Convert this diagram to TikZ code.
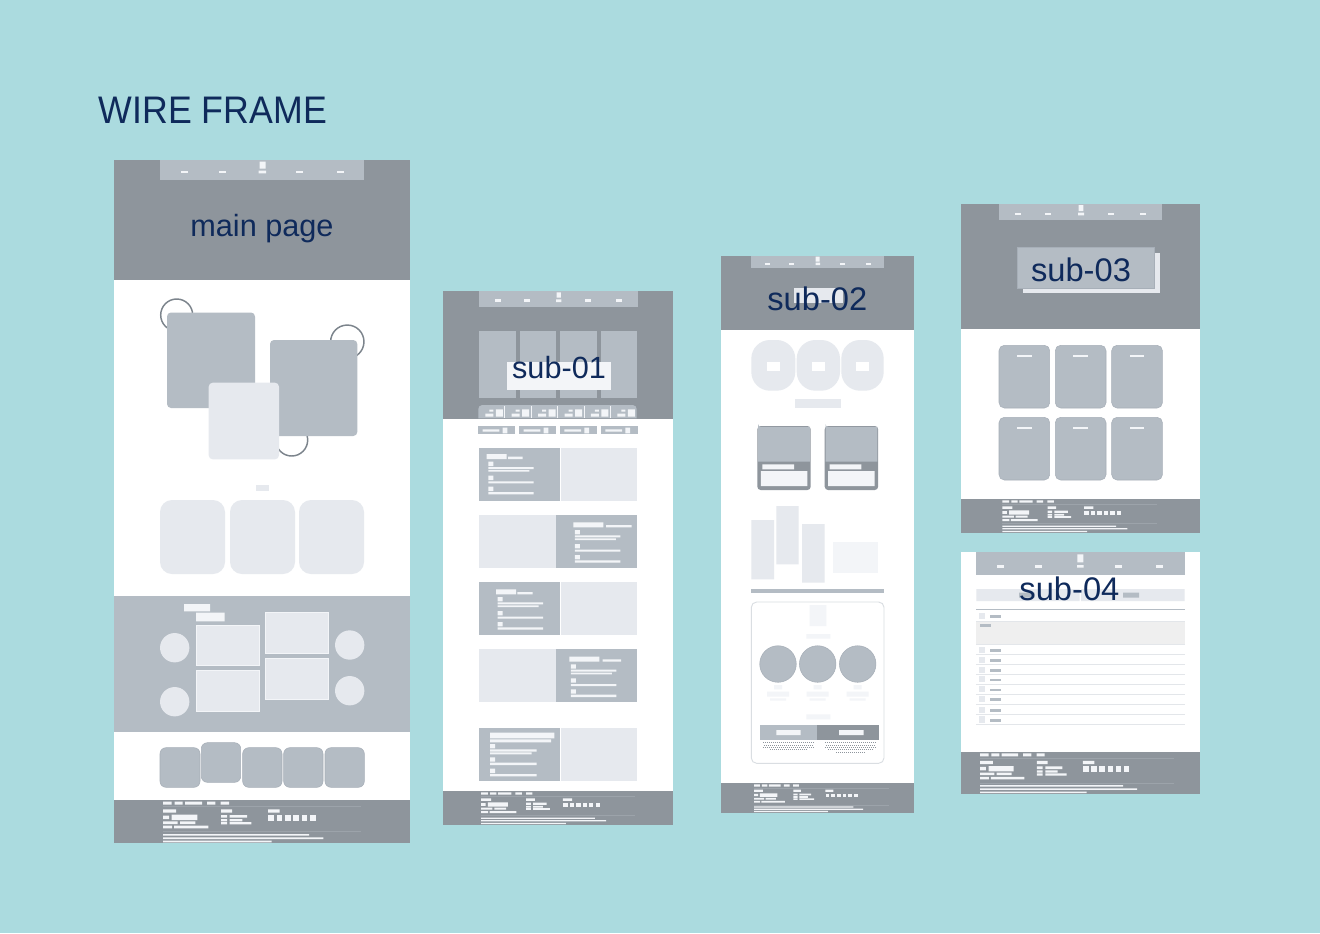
\documentclass[tikz,border=0pt]{standalone}
\usepackage{fontspec}
\setmainfont{Liberation Sans}
\definecolor{wfbg}{HTML}{ABDBDF}
\definecolor{wfdark}{HTML}{8E959C}
\definecolor{wfmid}{HTML}{B4BCC4}
\definecolor{wfedge}{HTML}{A7AFB8}
\definecolor{wflight}{HTML}{E6E9EE}
\definecolor{wfpale}{HTML}{F3F5F8}
\definecolor{wfgrey}{HTML}{EFEFEF}
\definecolor{wfnavy}{HTML}{0F2A5B}
\definecolor{wfline}{HTML}{9CA3AA}
\definecolor{wfring}{HTML}{7C848C}
\definecolor{wfrow}{HTML}{E3E6EA}

% page footer: menu, three columns of links, copyright lines
\newcommand{\wfFooter}[3]{%
\begin{scope}[shift={(#1,#2)},scale=#3]
\fill[wfpale] (0,1.7) rectangle (8.7,4.7) (11.7,1.7) rectangle (19.7,4.7)
  (22,1.7) rectangle (39,4.7) (44,1.7) rectangle (52.3,4.7) (57.7,1.7) rectangle (66,4.7)
  (0,9.3) rectangle (13,12.7) (58,9.3) rectangle (69,12.7) (105,9.3) rectangle (116.7,12.7)
  (0,15.5) rectangle (6,19) (8.7,14.7) rectangle (34.3,20)
  (0,21.3) rectangle (14.7,24) (17,21.3) rectangle (32.3,24)
  (0,25.7) rectangle (9,28.3) (11,25.7) rectangle (45.3,28.3)
  (58,15) rectangle (64,17.7) (66.7,15) rectangle (84,17.7)
  (58,19) rectangle (64,21.3) (66.7,19) rectangle (79.3,21.3)
  (58,22) rectangle (64,24.3) (66.7,22) rectangle (88.3,24.3)
  (0,34) rectangle (146,35.7) (0,37.3) rectangle (160.3,39) (0,40.7) rectangle (108.7,42.3);
\draw[wfline,line width=0.4pt] (0,6.7) -- (198,6.7) (0,31.7) -- (198,31.7);
\foreach \k in {0,...,5} \fill[wfpale] ({105.3+8.3*\k},15) rectangle +(5.7,5.7);
\end{scope}}

% text block: heading, then three bullet items
\newcommand{\wfTxt}[5]{%
\begin{scope}[shift={(#1,#2)}]
\fill[wfpale] (0,0) rectangle (#3,5) (#4,2.7) rectangle (#5,5)
  (1.6,7.7) rectangle (6.6,12) (1.6,13) rectangle (47,15) (1.6,16) rectangle (42.6,17.7)
  (1.6,21.7) rectangle (6.6,26) (1.6,27.3) rectangle (47,29.3)
  (1.6,32.7) rectangle (6.6,37) (1.6,38) rectangle (47,40.3);
\end{scope}}

\begin{document}
\begin{tikzpicture}[x=0.75pt,y=-0.75pt,
  title/.style={text=wfnavy,inner sep=0pt,anchor=base,font=\fontsize{23}{27}\selectfont},
  card/.style={fill=wfmid,draw=wfedge,line width=0.4pt},
  ring/.style={draw=wfring,line width=1.1pt}]
\fill[wfbg] (0,0) rectangle (1320,933);
\useasboundingbox (0,0) rectangle (1320,933);

\node[text=wfnavy,inner sep=0pt,anchor=base west,font=\fontsize{28.8}{33}\selectfont]
  (heading) at (98.5,123.3) {\scalebox{0.93}[1]{WIRE FRAME}};

%% ---------------- main page ----------------
\fill[white] (114,160) rectangle (410,843);
\fill[wfdark] (114,160) rectangle (410,280);
\fill[wfmid] (160,160) rectangle (364.3,180);
\foreach \c in {184.3,222,299.3,340} \fill[wfpale] (\c-3.5,170.7) rectangle (\c+3.5,173.3);
\fill[wfpale] (259.5,161.5) rectangle (265.5,168.5) (258.7,170.7) rectangle (266,173.3);
\node[title] (mainname) at (262,236.5) {main page};

% overlapping cards with rings
\draw[ring] (176.7,315) circle[radius=12pt];
\draw[ring] (347.3,341.7) circle[radius=12.5pt];
\draw[ring] (291.7,440) circle[radius=12pt];
\fill[wfmid,rounded corners=3pt] (167,312.5) rectangle (255,408);
\fill[wfmid,rounded corners=3pt] (270,340) rectangle (357.3,436);
\fill[wflight,rounded corners=3pt] (208.7,382.7) rectangle (279,459.3);

\fill[wflight] (256,484.5) rectangle (269,490.5);
\foreach \a/\b in {160/225,230/295,299/364}
  \fill[wflight,rounded corners=9pt] (\a,500) rectangle (\b,574);

% grey band
\fill[wfmid] (114,595.7) rectangle (410,732.3);
\fill[wfpale] (184,604) rectangle (210,611.3) (196,612.7) rectangle (224.7,621.3);
\foreach \p in {(174.7,647.7),(174.7,701.7),(349.7,645),(349.7,690.7)}
  \fill[wflight] \p circle[radius=11pt];
\foreach \a/\b/\c/\d in {196/625/259/665.3,196/670.3/259/711,265.3/612.7/328.7/653.3,265.3/658.7/328.7/699.3}
  \filldraw[fill=wflight,draw=wfpale,line width=0.6pt] (\a,\b) rectangle (\c,\d);

% card strip
\foreach \a/\b in {160/200,242.7/282,283.7/323,325/364.3}
  \filldraw[card,rounded corners=4.5pt] (\a,747.7) rectangle (\b,787.3);
\filldraw[card,rounded corners=4.5pt] (201.3,742.7) rectangle (240.7,782.3);

\fill[wfdark] (114,800) rectangle (410,843);
\wfFooter{163}{800}{1}

%% ---------------- sub-01 ----------------
\fill[white] (443.3,291) rectangle (673.3,825);
\fill[wfdark] (443.3,291) rectangle (673.3,419.3);
\fill[wfmid] (479.3,291) rectangle (637.7,306.7);
\foreach \c in {498,527,587.7,619} \fill[wfpale] (\c-3,299.3) rectangle (\c+3,302);
\fill[wfpale] (556.5,292.3) rectangle (560.8,297.7) (556,299.3) rectangle (561.3,302);
\foreach \a/\b in {479.3/516,519.7/556,560/596.7,600.7/637.3}
  \fill[wfmid] (\a,331) rectangle (\b,398.3);
\fill[wfpale] (507.3,361.7) rectangle (610.7,390);
\node[title] (subone) at (559,378.3) {sub-01};

% tab strip
\fill[wfmid] (478.3,418.3) [rounded corners=3pt] -- (478.3,405) -- (636.7,405) [sharp corners] -- (636.7,418.3) -- cycle;
\foreach \k in {0,...,5} {
  \pgfmathsetmacro{\tx}{478.3+26.4*\k}
  \fill[wfpale] (\tx+11,409.5) rectangle (\tx+15,411.5) (\tx+7,413.5) rectangle (\tx+15,416.5)
    (\tx+17.5,409.3) rectangle (\tx+24.5,416.7);
}
\foreach \k in {1,...,5} \draw[wfpale,line width=0.4pt] ({478.3+26.4*\k},406) -- ({478.3+26.4*\k},418);
\foreach \a in {478.3,519.3,560,601} {
  \fill[wfmid] (\a,426) rectangle (\a+36.5,434.3);
  \fill[wfpale] (\a+4.3,429.3) rectangle (\a+21,431.7) (\a+24.3,427.7) rectangle (\a+29,433.3);
}

% content rows
\fill[wfmid] (479.3,448.3) rectangle (560,501);  \fill[wflight] (561,448.3) rectangle (637.3,501);
\wfTxt{486.7}{454}{20}{21.3}{36}
\fill[wflight] (479.3,515) rectangle (556,568.3);  \fill[wfmid] (556,515) rectangle (637.3,568.3);
\wfTxt{573.3}{522.3}{30}{32.7}{58.3}
\fill[wfmid] (479.3,582.3) rectangle (560,635.3);  \fill[wflight] (561,582.3) rectangle (637.3,635.3);
\wfTxt{496}{589.3}{20}{21.3}{36.7}
\fill[wflight] (479.3,649) rectangle (556,702.3);  \fill[wfmid] (556,649) rectangle (637.3,702.3);
\wfTxt{569.3}{656.7}{30}{33.3}{51.7}
\fill[wfmid] (479.3,728.3) rectangle (560,781);  \fill[wflight] (561,728.3) rectangle (637.3,781);
\fill[wfpale] (490,732.7) rectangle (554.3,738.3) (490,739.3) rectangle (551,742.3)
  (490,744) rectangle (495,748.3) (490,749.3) rectangle (536.7,751.7) (490,752.3) rectangle (531.7,754.3)
  (490,757.3) rectangle (495,761.7) (490,762.7) rectangle (536.7,765)
  (490,768.7) rectangle (495,773) (490,774) rectangle (536.7,776.3);

\fill[wfdark] (443.3,791) rectangle (673.3,825);
\wfFooter{481}{791}{0.78}

%% ---------------- sub-02 ----------------
\fill[white] (721.3,256) rectangle (914,813.3);
\fill[wfdark] (721.3,256) rectangle (914,330);
\fill[wfmid] (751.3,256) rectangle (884,268.3);
\foreach \c in {767.3,791.7,842,868.3} \fill[wfpale] (\c-2.5,262.7) rectangle (\c+2.5,265);
\fill[wfpale] (815.7,256.7) rectangle (819.7,261.7) (815.5,262.7) rectangle (820,265);
\fill[wflight] (794,288.3) rectangle (843.3,303.3);
\node[title,font=\fontsize{24.5}{29}\selectfont] (subtwo) at (817.3,310) {sub-02};

\foreach \a/\b in {751.3/795.3,796.7/840,841.3/883.7} {
  \fill[wflight,rounded corners=14pt] (\a,340) rectangle (\b,390.7);
  \fill[white] ({(\a+\b)/2-6.7},361.7) rectangle ({(\a+\b)/2+6.7},371);
}
\fill[wflight] (795.3,399.3) rectangle (841.3,408.3);

\foreach \a in {757.3,824.7} {
  \fill[wfdark,rounded corners=2.5pt] (\a,426) rectangle (\a+53.4,490);
  \fill[wfmid] (\a+0.8,426.8) [rounded corners=2pt] -- (\a+0.8,426.8) [sharp corners] -- (\a+52.6,426.8) -- (\a+52.6,461.7) -- (\a+0.8,461.7) -- cycle;
  \fill[wfpale] (\a+5,464.3) rectangle (\a+36.7,469.3) (\a+3.5,471) rectangle (\a+50,486);
}

% chart
\fill[wflight] (751.3,520) rectangle (774,579.3) (776.3,506) rectangle (798.7,564.3)
  (802,524) rectangle (824.7,582.7);
\fill[wfpale] (833,541.7) rectangle (878,572.7);
\fill[wfmid] (751.3,588.7) rectangle (883.7,593.3);

% plan box
\draw[wfrow!80!wfmid,line width=0.7pt,rounded corners=4pt] (751.3,602) rectangle (884,763.3);
\fill[wfpale] (809.7,605) rectangle (826.3,626) (806.3,634) rectangle (830.3,638.7)
  (806.3,714.3) rectangle (830.3,719.3);
\foreach \c in {778,817.7,857.7} {
  \filldraw[fill=wfmid,draw=wfedge,line width=0.4pt] (\c,664) circle[radius=13.7pt];
  \fill[wfpale] (\c-4,685) rectangle (\c+4,689.3) (\c-11,691.7) rectangle (\c+11,696.7)
    (\c-8,698.3) rectangle (\c+8,700.7);
}
\fill[wfmid] (759.7,725) rectangle (817.3,740);
\fill[wfdark] (817.3,725) rectangle (878.7,740);
\fill[wfpale] (776.3,730) rectangle (800.7,735) (839,730) rectangle (863.7,735);
\foreach \y/\l/\r in {742.5/763/815,744.8/764/814,747.1/763/815,749.4/770/808}
  \draw[wfdark,line width=0.3pt,dash pattern=on 1pt off 0.5pt] (\l,\y) -- (\r,\y);
\foreach \y/\l/\r in {742.5/825/877,744.8/826/876,747.1/825/877,749.4/828/874,751.7/836/866}
  \draw[wfdark,line width=0.3pt,dash pattern=on 1pt off 0.5pt] (\l,\y) -- (\r,\y);

\fill[wfdark] (721.3,783.3) rectangle (914,813.3);
\wfFooter{754}{783.3}{0.68}

%% ---------------- sub-03 ----------------
\fill[white] (961.3,204) rectangle (1199.7,533.3);
\fill[wfdark] (961.3,204) rectangle (1199.7,329);
\fill[wfmid] (999,204) rectangle (1162.3,220);
\foreach \c in {1018.3,1048,1111,1143.3} \fill[wfpale] (\c-3,212.5) rectangle (\c+3,215.3);
\fill[wfpale] (1078.7,205) rectangle (1083.3,211) (1078,212.5) rectangle (1084,215.3);
\fill[wflight] (1023,252.7) rectangle (1159.7,292.7);
\filldraw[fill=wfmid,draw=wfedge,line width=0.4pt] (1017.3,247.7) rectangle (1154.7,288.3);
\node[title,font=\fontsize{24.5}{29}\selectfont] (subthree) at (1081,281.7) {sub-03};
\foreach \a in {999,1055.3,1111.7}
  \foreach \b in {345.3,417.3} {
    \filldraw[card,rounded corners=4pt] (\a,\b) rectangle (\a+50.7,\b+62.7);
    \fill[wfpale] (\a+18,\b+9.7) rectangle (\a+32.7,\b+12);
  }
\fill[wfdark] (961.3,499) rectangle (1199.7,533.3);
\wfFooter{1002.3}{499}{0.78}

%% ---------------- sub-04 ----------------
\fill[white] (961.3,552.3) rectangle (1199.7,794.3);
\fill[wfmid] (976.3,552.3) rectangle (1184.7,575);
\foreach \c in {1000.7,1038.7,1118.7,1159.7} \fill[wfpale] (\c-3.5,565) rectangle (\c+3.5,567.7);
\fill[wfpale] (1077.3,554.3) rectangle (1083.3,562.3) (1077,565) rectangle (1083.7,567.7);
\fill[wflight] (976.3,589) rectangle (1079.5,601) (1081,589) rectangle (1184.7,601);
\fill[wfmid] (1019,592.7) rectangle (1034.7,597.7) (1123,592.7) rectangle (1139,597.7);
\node[title,font=\fontsize{24.5}{29}\selectfont] (subfour) at (1069.4,600) {sub-04};
\draw[wfmid,line width=1.1pt] (976.3,609.3) -- (1184.7,609.3);
\fill[wflight] (979,612.7) rectangle (985.3,619);
\fill[wfmid] (989.7,615.3) rectangle (1001.3,618.3);
\fill[wfgrey] (976.3,621) rectangle (1184.7,644.3);
\draw[wfrow,line width=0.4pt] (976.3,621) -- (1184.7,621) (976.3,644.3) -- (1184.7,644.3);
\fill[wfmid] (980,624.3) rectangle (991.3,627);
\foreach \t/\l in {646.7/654.3,656.7/664,666.7/674,676/684,686/694,695.7/704.3,706.7/714.3,716.3/724.3} {
  \fill[wflight] (979,\t) rectangle (985.3,\t+6.3);
  \fill[wfmid] (989.7,\t+2.6) rectangle (1001.3,\t+5.3);
  \draw[wfrow,line width=0.5pt] (976.3,\l) -- (1184.7,\l);
}
\fill[wfdark] (961.3,751.7) rectangle (1199.7,794.3);
\wfFooter{980}{751.7}{0.98}
\end{tikzpicture}
\end{document}
